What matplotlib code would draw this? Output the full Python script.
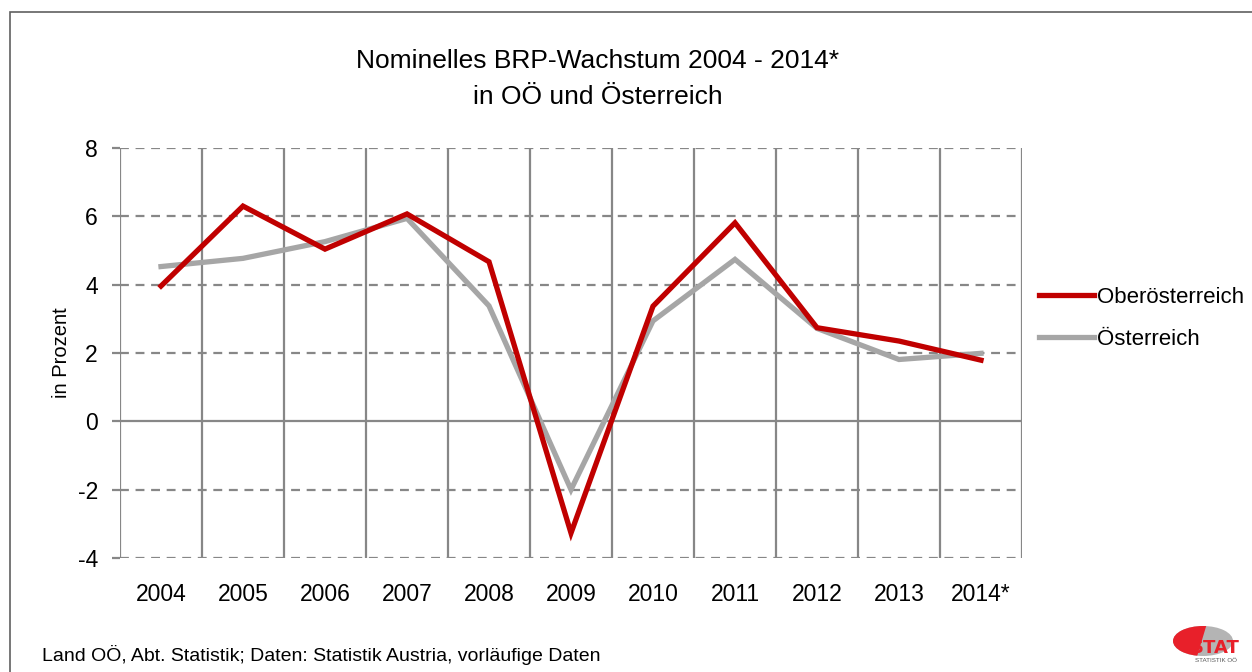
import matplotlib
matplotlib.use("Agg")
import matplotlib.pyplot as plt
from matplotlib.patches import Rectangle, Ellipse, Polygon
import numpy as np

years = ["2004", "2005", "2006", "2007", "2008", "2009", "2010", "2011", "2012", "2013", "2014*"]
ooe = [3.96, 6.30, 5.04, 6.07, 4.67, -3.27, 3.37, 5.81, 2.74, 2.35, 1.79]
oe = [4.53, 4.77, 5.26, 5.94, 3.38, -2.00, 2.94, 4.74, 2.72, 1.81, 1.99]
series_names = ["Oberösterreich", "Österreich"]
yticks = [-4, -2, 0, 2, 4, 6, 8]

plt.rcParams['font.family'] = ['Liberation Sans', 'DejaVu Sans']

fig = plt.figure(figsize=(12.52, 6.72), dpi=100)
W, H = 1252, 672
ax = fig.add_axes([120 / W, 1 - 558 / H, 902 / W, 410 / H])

grid_c = "#878787"
x = np.arange(len(years))
ax.set_xlim(-0.5, len(years) - 0.5)
ax.set_ylim(-4, 8)

for yv in yticks:
    if yv == 0:
        ax.axhline(yv, color=grid_c, lw=1.6, zorder=1)
    else:
        ax.axhline(yv, color=grid_c, lw=1.6, ls=(0, (4, 3)), zorder=1)
for b in np.arange(-0.5, len(years), 1.0):
    ax.axvline(b, color=grid_c, lw=1.6, zorder=1)

ax.plot(x, ooe, color="#C00000", lw=3.8, label=series_names[0], zorder=3, solid_joinstyle='miter')
ax.plot(x, oe, color="#A6A6A6", lw=3.8, label=series_names[1], zorder=2, solid_joinstyle='miter')

for s in ax.spines.values():
    s.set_visible(False)
ax.set_yticks(yticks)
ax.set_yticklabels([str(v) for v in yticks])
ax.tick_params(axis='y', length=6, width=1.6, color=grid_c, labelsize=16.5, pad=10)
ax.set_xticks(x)
ax.set_xticklabels(years)
ax.tick_params(axis='x', length=0, labelsize=16.5, pad=18)
ax.set_ylabel("in Prozent", fontsize=14.5, labelpad=5)

leg = fig.legend(loc='upper left', bbox_to_anchor=(1030 / W, 1 - 278 / H), frameon=False,
                 fontsize=16, handlelength=2.5, handletextpad=0.1, labelspacing=0.95,
                 borderaxespad=0)

fig.text(598 / W, 1 - 61 / H, "Nominelles BRP-Wachstum 2004 - 2014*", ha='center', va='center', fontsize=19)
fig.text(598 / W, 1 - 97 / H, "in OÖ und Österreich", ha='center', va='center', fontsize=19)
fig.text(42 / W, 1 - 655 / H, "Land OÖ, Abt. Statistik; Daten: Statistik Austria, vorläufige Daten",
         ha='left', va='center', fontsize=14)

# frame
fig.patches.append(Rectangle((10 / W, -0.1), 1.2, (1 - 12 / H) + 0.1, transform=fig.transFigure,
                             fill=False, edgecolor="#606060", lw=1.2))

# logo (pixel coordinates in a small helper axes)
lax = fig.add_axes([1160 / W, 0, 92 / W, 62 / H])
lax.set_xlim(1160, 1252)
lax.set_ylim(672, 610)
lax.axis('off')
ell = Ellipse((1203, 641), 60, 30, facecolor="#B4B4B4", edgecolor="none")
lax.add_patch(ell)
red = Polygon([(1160, 620), (1208, 620), (1196, 660), (1160, 660)], closed=True,
              facecolor="#E8202A", edgecolor="none")
lax.add_patch(red)
red.set_clip_path(ell)
lax.text(1215, 648, "STAT", color="#E8202A", fontsize=13, fontweight='bold',
         ha='center', va='center', family=['DejaVu Sans'])
lax.text(1216, 661, "STATISTIK OÖ", color="#555555", fontsize=4.5,
         ha='center', va='center')

fig.savefig("out.png", dpi=100)
